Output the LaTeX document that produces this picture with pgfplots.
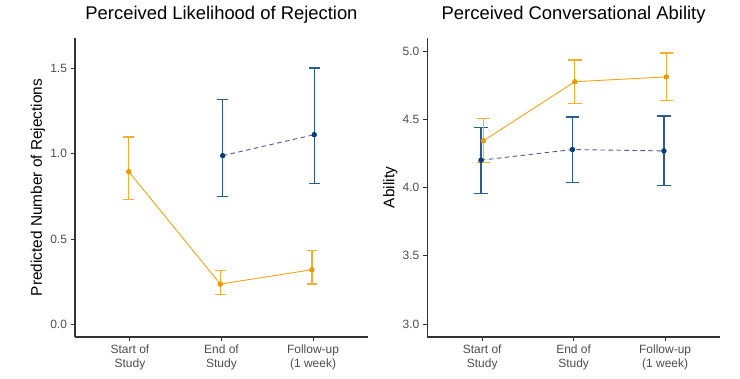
\documentclass[border=0pt]{standalone}
\usepackage{pgfplots}
\pgfplotsset{compat=1.18}
\usepackage{pgfplotstable}
\usepackage{fontspec}
\setmainfont{Liberation Sans}
\definecolor{orLine}{HTML}{F2A516}
\definecolor{orBar}{HTML}{F5AE2F}
\definecolor{orPt}{HTML}{EE9A00}
\definecolor{blBar}{HTML}{2B5D8C}
\definecolor{blPt}{HTML}{0A3D7A}
\definecolor{blLine}{HTML}{4B5B8B}
\definecolor{tickgray}{HTML}{4D4D4D}
\definecolor{axisdark}{HTML}{333333}

% x y lo hi
\pgfplotstableread{
x y lo hi
0.987 0.894 0.730 1.097
1.987 0.236 0.176 0.316
2.987 0.320 0.236 0.431
}\rejOrange
\pgfplotstableread{
x y lo hi
2.013 0.988 0.748 1.316
3.013 1.111 0.824 1.502
}\rejBlue
\pgfplotstableread{
x y lo hi
1.013 4.342 4.181 4.503
2.013 4.775 4.614 4.934
3.013 4.810 4.639 4.985
}\abOrange
\pgfplotstableread{
x y lo hi
0.987 4.200 3.958 4.439
1.987 4.278 4.036 4.517
2.987 4.268 4.015 4.524
}\abBlue

\pgfplotsset{
  panel/.style={
    scale only axis, width=293pt, height=299pt,
    anchor=south west,
    axis lines*=left,
    axis line style={-, axisdark, line width=1.1pt},
    xmin=0.4, xmax=3.6,
    xtick={1,2,3},
    xticklabels={Start of\\Study, End of\\Study, Follow-up\\(1 week)},
    xticklabel style={align=center, text=tickgray, font=\fontsize{12}{13.5}\selectfont},
    yticklabel style={text=tickgray, font=\fontsize{12}{13.5}\selectfont},
    /pgf/number format/assume math mode=true,
    yticklabel={\pgfmathprintnumber[fixed, fixed zerofill, precision=1]{\tick}},
    tick align=outside, major tick length=4.5pt,
    tick style={axisdark, line width=0.9pt},
    minor tick num=0,
    every axis y label/.style={at={(axis description cs:-0.1263,0.5)}, rotate=90, anchor=center, font=\fontsize{15.4}{17}\selectfont},
    title style={at={(axis description cs:0.5,1)}, anchor=base, yshift=12pt, font=\fontsize{18.4}{20}\selectfont},
    clip=false,
  },
  ebars/.style n args={2}{only marks, mark=none, forget plot,
    error bars/.cd, y dir=both, y explicit,
    error bar style={draw=#1, line width=1.3pt},
    error mark options={draw=#1, rotate=90, mark size=#2, line width=1.3pt}},
}

\begin{document}
\begin{tikzpicture}
\useasboundingbox (0,0) rectangle (740pt,379pt);

\begin{axis}[panel, at={(75pt,42pt)},
  ymin=-0.074, ymax=1.677, ytick={0,0.5,1,1.5},
  ylabel={Predicted Number of Rejections},
  title={Perceived Likelihood of Rejection}]
\addplot[ebars={orBar}{5.25pt}] table[x=x, y=y, y error plus expr=\thisrow{hi}-\thisrow{y}, y error minus expr=\thisrow{y}-\thisrow{lo}] {\rejOrange};
\addplot[ebars={blBar}{5.25pt}] table[x=x, y=y, y error plus expr=\thisrow{hi}-\thisrow{y}, y error minus expr=\thisrow{y}-\thisrow{lo}] {\rejBlue};
\addplot[orLine, line width=0.9pt, mark=*, mark size=2.2pt, mark options={solid, fill=orPt, draw=orPt}] table[x=x, y=y] {\rejOrange};
\addplot[blLine, line width=0.9pt, dash pattern=on 4.5pt off 3.5pt, mark=*, mark size=2.2pt, mark options={solid, fill=blPt, draw=blPt}] table[x=x, y=y] {\rejBlue};
\end{axis}

\begin{axis}[panel, at={(427.3pt,42pt)}, width=292.7pt,
  ymin=2.905, ymax=5.095, ytick={3,3.5,4,4.5,5},
  ylabel={Ability},
  title={Perceived Conversational Ability}]
\addplot[ebars={blBar}{6.8pt}] table[x=x, y=y, y error plus expr=\thisrow{hi}-\thisrow{y}, y error minus expr=\thisrow{y}-\thisrow{lo}] {\abBlue};
\addplot[ebars={orBar}{6.8pt}] table[x=x, y=y, y error plus expr=\thisrow{hi}-\thisrow{y}, y error minus expr=\thisrow{y}-\thisrow{lo}] {\abOrange};
\addplot[orLine, line width=0.9pt, mark=*, mark size=2.2pt, mark options={solid, fill=orPt, draw=orPt}] table[x=x, y=y] {\abOrange};
\addplot[blLine, line width=0.9pt, dash pattern=on 4.5pt off 3.5pt, mark=*, mark size=2.2pt, mark options={solid, fill=blPt, draw=blPt}] table[x=x, y=y] {\abBlue};
\end{axis}
\end{tikzpicture}
\end{document}
